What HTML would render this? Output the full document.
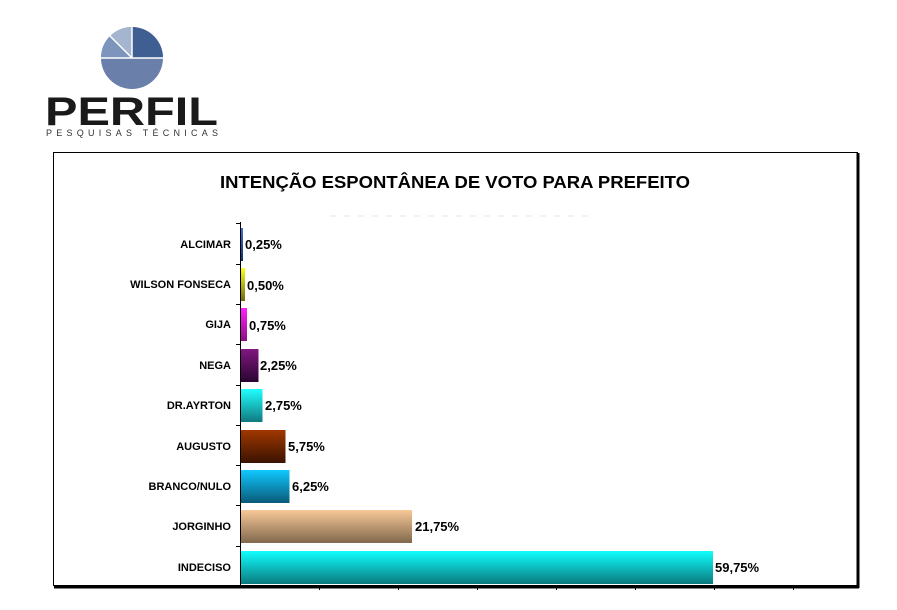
<!DOCTYPE html>
<html><head><meta charset="utf-8"><style>
html,body{margin:0;padding:0;background:#fff;}
</style></head><body>
<svg width="897" height="605" viewBox="0 0 897 605" xmlns="http://www.w3.org/2000/svg" font-family="Liberation Sans, Arial, sans-serif">
<defs>
<linearGradient id="g0" x1="0" y1="0" x2="0" y2="1"><stop offset="0" stop-color="#3a6fd8"/><stop offset="1" stop-color="#14306a"/></linearGradient>
<linearGradient id="g1" x1="0" y1="0" x2="0" y2="1"><stop offset="0" stop-color="#ffff20"/><stop offset="1" stop-color="#6e6a10"/></linearGradient>
<linearGradient id="g2" x1="0" y1="0" x2="0" y2="1"><stop offset="0" stop-color="#ff20ff"/><stop offset="1" stop-color="#8a1080"/></linearGradient>
<linearGradient id="g3" x1="0" y1="0" x2="0" y2="1"><stop offset="0" stop-color="#801880"/><stop offset="1" stop-color="#2a0530"/></linearGradient>
<linearGradient id="g4" x1="0" y1="0" x2="0" y2="1"><stop offset="0" stop-color="#20ffff"/><stop offset="1" stop-color="#107a80"/></linearGradient>
<linearGradient id="g5" x1="0" y1="0" x2="0" y2="1"><stop offset="0" stop-color="#a03800"/><stop offset="1" stop-color="#3a1200"/></linearGradient>
<linearGradient id="g6" x1="0" y1="0" x2="0" y2="1"><stop offset="0" stop-color="#10c8ff"/><stop offset="1" stop-color="#0a5a78"/></linearGradient>
<linearGradient id="g7" x1="0" y1="0" x2="0" y2="1"><stop offset="0" stop-color="#f8c898"/><stop offset="1" stop-color="#80684c"/></linearGradient>
<linearGradient id="g8" x1="0" y1="0" x2="0" y2="1"><stop offset="0" stop-color="#10ffff"/><stop offset="1" stop-color="#0a7a7e"/></linearGradient>
</defs>
<circle cx="132" cy="58" r="31" fill="#6a80ab"/>
<path d="M132 58 L132 27 A31 31 0 0 1 163 58 Z" fill="#3f5e92"/>
<path d="M132 58 L110 36 A31 31 0 0 1 132 27 Z" fill="#a4b5cf"/>
<path d="M132 58 L101 58 A31 31 0 0 1 110 36 Z" fill="#7d94bd"/>
<line x1="101" y1="58" x2="163" y2="58" stroke="#fff" stroke-width="1.5"/>
<line x1="132" y1="58" x2="132" y2="27" stroke="#fff" stroke-width="1.5"/>
<line x1="132" y1="58" x2="110" y2="36" stroke="#fff" stroke-width="1.5"/>
<text x="45" y="125" font-size="40" font-weight="bold" fill="#1a1a1a" textLength="173" lengthAdjust="spacingAndGlyphs">PERFIL</text>
<text x="46" y="136" font-size="9" fill="#333" textLength="172" lengthAdjust="spacing">PESQUISAS TÉCNICAS</text>
<rect x="53.5" y="152.5" width="804" height="433" fill="#fff" stroke="#000" stroke-width="1"/>
<line x1="858" y1="153" x2="858" y2="588" stroke="#000" stroke-width="3"/>
<line x1="54" y1="587" x2="859" y2="587" stroke="#000" stroke-width="3"/>
<text x="220" y="188" font-size="17.5" font-weight="bold" fill="#000" textLength="470" lengthAdjust="spacingAndGlyphs">INTENÇÃO ESPONTÂNEA DE VOTO PARA PREFEITO</text>
<line x1="330" y1="216" x2="595" y2="216" stroke="#e6e6e6" stroke-width="1" stroke-dasharray="6 8"/>
<line x1="240.5" y1="222" x2="240.5" y2="586" stroke="#000" stroke-width="1"/>
<g stroke="#000" stroke-width="1">
<line x1="236" y1="223.5" x2="240" y2="223.5"/><line x1="236" y1="264.5" x2="240" y2="264.5"/><line x1="236" y1="304.5" x2="240" y2="304.5"/><line x1="236" y1="344.5" x2="240" y2="344.5"/><line x1="236" y1="385.5" x2="240" y2="385.5"/><line x1="236" y1="425.5" x2="240" y2="425.5"/><line x1="236" y1="465.5" x2="240" y2="465.5"/><line x1="236" y1="505.5" x2="240" y2="505.5"/><line x1="236" y1="546.5" x2="240" y2="546.5"/>
<line x1="319.5" y1="586" x2="319.5" y2="590"/><line x1="398.5" y1="586" x2="398.5" y2="590"/><line x1="477.5" y1="586" x2="477.5" y2="590"/><line x1="556.5" y1="586" x2="556.5" y2="590"/><line x1="635.5" y1="586" x2="635.5" y2="590"/><line x1="714.5" y1="586" x2="714.5" y2="590"/><line x1="793.5" y1="586" x2="793.5" y2="590"/>
</g>
<rect x="241" y="228" width="2" height="33" fill="url(#g0)"/>
<rect x="241" y="268" width="4" height="33" fill="url(#g1)"/>
<rect x="241" y="308" width="6" height="33" fill="url(#g2)"/>
<rect x="241" y="349" width="17.5" height="33" fill="url(#g3)"/>
<rect x="241" y="389" width="21.5" height="33" fill="url(#g4)"/>
<rect x="241" y="430" width="44.5" height="33" fill="url(#g5)"/>
<rect x="241" y="470" width="48.5" height="33" fill="url(#g6)"/>
<rect x="241" y="510" width="171" height="33" fill="url(#g7)"/>
<rect x="241" y="551" width="472" height="33" fill="url(#g8)"/>
<g font-size="11" font-weight="bold" text-anchor="end" fill="#000">
<text x="231" y="248">ALCIMAR</text>
<text x="231" y="288">WILSON FONSECA</text>
<text x="231" y="328">GIJA</text>
<text x="231" y="369">NEGA</text>
<text x="231" y="409">DR.AYRTON</text>
<text x="231" y="450">AUGUSTO</text>
<text x="231" y="490">BRANCO/NULO</text>
<text x="231" y="530">JORGINHO</text>
<text x="231" y="571">INDECISO</text>
</g>
<g font-size="13" font-weight="bold" fill="#000">
<text x="245" y="249">0,25%</text>
<text x="247" y="290">0,50%</text>
<text x="249" y="330">0,75%</text>
<text x="260" y="370">2,25%</text>
<text x="265" y="410">2,75%</text>
<text x="288" y="451">5,75%</text>
<text x="292" y="491">6,25%</text>
<text x="415" y="531">21,75%</text>
<text x="715" y="572">59,75%</text>
</g>
</svg>
</body></html>
